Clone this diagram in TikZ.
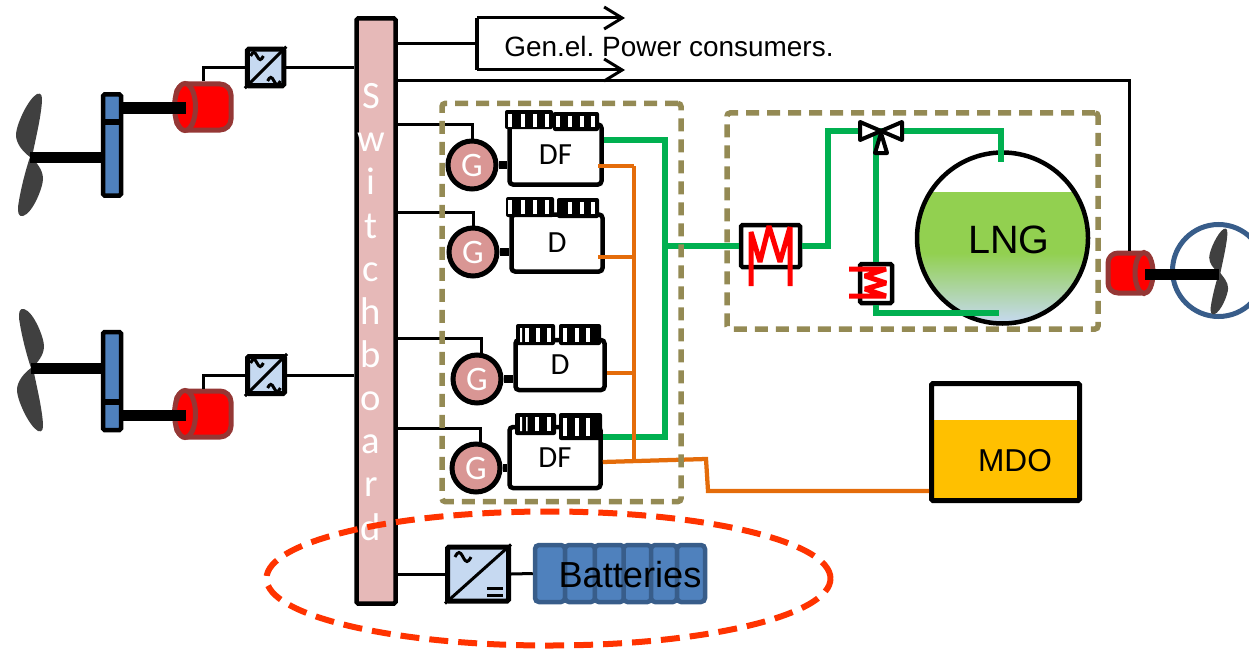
\documentclass[tikz,border=0pt]{standalone}
\usepackage{fontspec}
\setmainfont{Liberation Sans}
\newfontfamily\calfont{Carlito}
\usetikzlibrary{arrows.meta,positioning,shapes.geometric}
\definecolor{pinkbar}{HTML}{E6B9B8}
\definecolor{genpink}{HTML}{D99694}
\definecolor{bluegear}{HTML}{4F81BD}
\definecolor{blueedge}{HTML}{385D8A}
\definecolor{convblue}{HTML}{C6D9F1}
\definecolor{olive}{HTML}{948A54}
\definecolor{gasgreen}{HTML}{00B050}
\definecolor{oilorange}{HTML}{E46C0A}
\definecolor{motoredge}{HTML}{953735}
\definecolor{lnggreen}{HTML}{92D050}
\definecolor{mdoyellow}{HTML}{FFC000}
\definecolor{zonered}{HTML}{FF3300}
\definecolor{bladegray}{HTML}{404040}
\tikzset{
  >={Straight Barb[length=3.6mm,width=4.4mm]},
  wire/.style={draw=black,line width=.6mm},
  shaft/.style={draw=black,line width=2.2mm},
  stub/.style={draw=black,line width=1.6mm},
  gaspipe/.style={draw=gasgreen,line width=1.3mm},
  oilpipe/.style={draw=oilorange,line width=.85mm},
  heatcoil/.style={draw=red,line width=1mm,line join=bevel},
  dashbox/.style={draw=olive,line width=1.1mm,rounded corners=.6mm,dash pattern=on 2.6mm off 1.6mm},
  motor/.style={rectangle,draw=motoredge,fill=red,line width=1mm,rounded corners=2.2mm,minimum width=11mm,minimum height=9.2mm,inner sep=0pt},
  motorend/.style={ellipse,draw=motoredge,fill=red,line width=1mm,minimum width=4.2mm,minimum height=9.4mm,inner sep=0pt},
  gearbar/.style={rectangle,draw=black,fill=bluegear,line width=.9mm,rounded corners=.3mm,minimum width=3.6mm,inner sep=0pt},
  conv/.style={rectangle,draw=black,fill=convblue,line width=1mm,rounded corners=.3mm,inner sep=0pt},
  gen/.style={circle,draw=black,fill=genpink,line width=1mm,minimum size=9.6mm,inner sep=0pt,text=white,font=\calfont\fontsize{19.5pt}{22pt}\selectfont},
  engine/.style={rectangle,draw=black,fill=white,line width=.9mm,rounded corners=.7mm,inner sep=0pt,font=\calfont\fontsize{17.5pt}{20pt}\selectfont},
  headblock/.style={fill=black,rounded corners=.4mm},
  slot/.style={fill=white},
  cell/.style={rectangle,draw=blueedge,fill=bluegear,line width=.9mm,rounded corners=.8mm,minimum height=11.4mm,inner sep=0pt},
  propeller/.pic={
    \fill[bladegray] (0,0) .. controls (-8,-6) and (-14,-14) .. (-14,-22)
      .. controls (-14,-32) and (-2,-58) .. (7,-63)
      .. controls (12,-65) and (12,-60) .. (12,-56)
      .. controls (11,-40) and (6,-20) .. (2,0)
      .. controls (6,6) and (13,12) .. (13,22)
      .. controls (13,30) and (3,56) .. (-7,59)
      .. controls (-12,60) and (-12,55) .. (-12,50)
      .. controls (-10,35) and (-5,15) .. (0,0) -- cycle;
  },
  wavy/.pic={
    \draw[line width=.6mm] (-8,0) .. controls (-5,-6) and (-3,-6) .. (0,0)
      .. controls (3,6) and (5,6) .. (8,0);
  },
}
\newcommand{\headslots}[3]{\foreach \sx in {#1} \fill[slot] (\sx-2.2,#2) rectangle (\sx+2.2,#3);}

\begin{document}
\begin{tikzpicture}[x=.2mm,y=-.2mm]
  \useasboundingbox (0,0) rectangle (1249,649);

  \node[rectangle,draw=black,fill=pinkbar,line width=.9mm,rounded corners=.3mm,minimum width=7.8mm,minimum height=117mm] (swb) at (376,311) {};
  \node[text=white,align=center,font=\calfont\fontsize{22pt}{24.55pt}\selectfont] (swblab) at (371,312)
    {S\\w\\i\\t\\c\\h\\b\\o\\a\\r\\d};

  % propulsion, port side
  \coordinate (hubA) at (30,157);
  \coordinate (hubB) at (31,368);
  \coordinate (shA) at (186,108);
  \coordinate (shB) at (186,415);
  \pic at (hubA) {propeller};
  \pic[yscale=-1] at (hubB) {propeller};
  \node[gearbar,minimum height=20.2mm] (gearA) at (112,145) {};
  \node[gearbar,minimum height=19.6mm] (gearB) at (112,381) {};
  \draw[line width=1.3mm] (gearA.west |- 0,122) -- (gearA.east |- 0,122);
  \draw[line width=1.3mm] (gearB.west |- 0,402) -- (gearB.east |- 0,402);
  \node[motor] (motA) at (203.5,107) {};
  \node[motor] (motB) at (203.5,414) {};
  \node[motorend] (endA) at (185,107) {};
  \node[motorend] (endB) at (185,414) {};
  \draw[shaft] (hubA) -- (gearA.west |- hubA);
  \draw[shaft] (hubB) -- (gearB.west |- hubB);
  \draw[shaft] (gearA.east |- shA) -- (shA);
  \draw[shaft] (gearB.east |- shB) -- (shB);
  \node[conv,minimum size=7.3mm] (convA) at (265.5,67.5) {};
  \node[conv,minimum size=7.4mm] (convB) at (266,375) {};
  \draw[wire] (motA.north) |- (convA.west);
  \draw[wire] (motB.north) |- (convB.west);
  \draw[wire] (convA.east) -- (convA.east -| swb.west);
  \draw[wire] (convB.east) -- (convB.east -| swb.west);
  \draw[wire] (convA.south west) -- (convA.north east);
  \draw[wire] (convB.south west) -- (convB.north east);
  \pic[scale=.8] at (257,56) {wavy};
  \pic[scale=.8] at (274,81) {wavy};
  \pic[scale=.8] at (257,363) {wavy};
  \pic[scale=.8] at (274,388) {wavy};

  % general consumers
  \coordinate (fork) at (477,44);
  \coordinate (forkT) at (477,18);
  \coordinate (forkB) at (477,70);
  \coordinate (tipT) at (625,18);
  \coordinate (tipB) at (625,70);
  \draw[wire] (swb.east |- fork) -- (fork);
  \draw[wire,line width=.8mm] (forkT) -- (forkB);
  \draw[wire,->] (forkT) -- (tipT);
  \draw[wire,->] (forkB) -- (tipB);
  \node[anchor=west,inner sep=0pt,font=\frenchspacing\fontsize{15.9pt}{18pt}\selectfont] (consumers) at (504,47) {Gen.el. Power consumers.};

  % gensets
  \node[engine,minimum width=18.4mm,minimum height=12mm] (engA) at (555.5,154.5) {DF};
  \node[engine,minimum width=18.2mm,minimum height=11.4mm] (engB) at (557,243) {D};
  \node[engine,minimum width=17.8mm,minimum height=10mm] (engC) at (560,365) {D};
  \node[engine,minimum width=18.2mm,minimum height=12.2mm] (engD) at (555,457.5) {DF};
  \fill[headblock] (505,110) rectangle (553,129) (553,112) rectangle (599,131);
  \fill[headblock] (506,197) rectangle (554,217) (557,198) rectangle (599,218);
  \fill[headblock] (516,324) rectangle (555,345) (559,324) rectangle (601,345);
  \fill[headblock] (515,413) rectangle (556,435) (559,413) rectangle (602,440);
  \headslots{510,523,535,547}{114}{127}
  \headslots{558,570,582,593}{116}{127}
  \headslots{510,523,535,547}{200}{214}
  \headslots{570,582,593}{202}{214}
  \headslots{527,538,549,565,577,588}{328}{342}
  \headslots{537,549}{417}{431}
  \headslots{565,577,588}{418}{436}
  \fill[slot] (520,328) rectangle (522,342) (520,417) rectangle (522,431) (526,417) rectangle (527.5,431);
  \node[gen] (genA) at (472,165) {G};
  \node[gen] (genB) at (473,252) {G};
  \node[gen] (genC) at (477,379) {G};
  \node[gen] (genD) at (476,468) {G};
  \foreach \g/\e in {genA/engA,genB/engB,genC/engC,genD/engD}
    \draw[stub] (\g.east) -- (\g.east -| \e.west);
  \draw[wire] (swb.east |- 0,124) -| (genA.north);
  \draw[wire] (swb.east |- 0,212) -| (genB.north);
  \draw[wire] (swb.east |- 0,338) -| (genC.80);
  \draw[wire] (swb.east |- 0,428) -| (genD.80);

  % fuel gas side
  \coordinate (tankc) at (1002.5,238);
  \begin{scope}
    \clip (tankc) circle (84);
    \fill[lnggreen] (900,192) rectangle (1100,254);
    \shade[top color=lnggreen,bottom color=convblue] (900,253) rectangle (1100,323);
  \end{scope}
  \node[circle,draw=black,line width=.9mm,minimum size=34.2mm,inner sep=0pt] (tank) at (tankc) {};
  \node[inner sep=0pt,font=\fontsize{22.5pt}{24pt}\selectfont] (lnglab) at (1009,240) {LNG};
  \node[rectangle,draw=black,fill=white,line width=.9mm,rounded corners=.3mm,minimum width=11.8mm,minimum height=8.4mm] (hxA) at (770.5,246) {};
  \node[rectangle,draw=black,fill=white,line width=.9mm,rounded corners=.3mm,minimum width=6.4mm,minimum height=7.8mm] (hxB) at (876,283.5) {};
  \coordinate (valve) at (881,131);
  \coordinate (gasbus) at (665,246);
  \coordinate (tanktop) at (1001,162);
  \coordinate (tankbot) at (999,313);
  \draw[gaspipe] (engA.east |- 0,140) -- (gasbus |- 0,140) -- (gasbus |- 0,437) -- (engD.east |- 0,437);
  \draw[gaspipe] (gasbus) -- (hxA.west);
  \draw[gaspipe] (hxA.east) -- (828,246) -- (828,131) -- (valve);
  \draw[gaspipe] (valve) -| (tanktop);
  \draw[gaspipe] (hxB.north |- valve) -- (hxB.north);
  \draw[gaspipe] (hxB.south) |- (tankbot);
  \draw[heatcoil] (751,286) -- (751,232) -- (760,262) -- (769,226) -- (780,262) -- (790,227) -- (790,286);
  \draw[heatcoil] (849,269) -- (886,269) -- (865,276) -- (886,283) -- (865,289) -- (886,296) -- (849,296);
  \draw[black,fill=white,line width=.8mm,line join=round] (860,122) -- (881,131) -- (860,140) -- cycle;
  \draw[black,fill=white,line width=.8mm,line join=round] (902,122) -- (881,131) -- (902,140) -- cycle;
  \draw[black,fill=white,line width=.8mm,line join=round] (881,133) -- (875,153) -- (887,153) -- cycle;

  % liquid fuel side
  \fill[mdoyellow] (931,420) rectangle (1080,501);
  \node[rectangle,draw=black,line width=1mm,rounded corners=.3mm,minimum width=29.6mm,minimum height=23.4mm] (mdo) at (1005.5,442) {};
  \node[inner sep=0pt,font=\fontsize{18pt}{20pt}\selectfont] (mdolab) at (1015,461) {MDO};
  \coordinate (oilbus) at (634,300);
  \coordinate (oilA) at (598,166);
  \coordinate (oilB) at (598,257);
  \draw[oilpipe] (oilA) -- (oilbus |- oilA);
  \draw[oilpipe] (oilB) -- (oilbus |- oilB);
  \draw[oilpipe] (engC.east |- 0,373) -- (oilbus |- 0,373);
  \draw[oilpipe] (oilbus |- oilA) -- (oilbus |- 0,462);
  \draw[oilpipe] (engD.east |- 0,462) -- (706,459) -- (708,491) -- (mdo.west |- 0,491);

  \node[dashbox,minimum width=47.8mm,minimum height=79.6mm,inner sep=0pt] (genbox) at (561.5,302.5) {};
  \node[dashbox,minimum width=74.2mm,minimum height=43.2mm,inner sep=0pt] (gasbox) at (912.5,221) {};

  % main drive
  \node[circle,draw=blueedge,line width=1mm,minimum size=18.4mm,inner sep=0pt] (podring) at (1218.5,270.5) {};
  \coordinate (hubC) at (1219,273);
  \coordinate (shC) at (1145,274);
  \pic[scale=.7] at (hubC) {propeller};
  \node[motor,minimum width=8.6mm,minimum height=8mm,rounded corners=2mm] (motC) at (1129.5,273) {};
  \node[motorend,minimum width=3.6mm,minimum height=8.2mm] (endC) at (1144,273) {};
  \draw[shaft] (shC) -- (hubC |- shC);
  \draw[wire] (swb.east |- 0,81) -| (motC.north);

  % battery branch
  \node[conv,minimum width=12.2mm,minimum height=10.8mm] (convC) at (478,574) {};
  \draw[wire] (convC.south west) -- (convC.north east);
  \pic at (463,557) {wavy};
  \draw[line width=.6mm] (487,588) -- (503,588) (487,595) -- (503,595);
  \foreach \i/\cx/\w in {1/550/6.0,2/580/6.0,3/609.5/5.9,4/637.5/5.6,5/664/5.2,6/691/5.6}
    \node[cell,minimum width=\w mm] (cell\i) at (\cx,573.5) {};
  \node[inner sep=0pt,font=\fontsize{20.6pt}{24pt}\selectfont] (batlab) at (630,575) {Batteries};
  \draw[wire] (swb.east |- convC) -- (convC.west);
  \draw[wire] (convC.east) -- (cell1.west);
  \node[ellipse,draw=zonered,line width=1.2mm,dash pattern=on 3.8mm off 2mm,minimum width=112.8mm,minimum height=26.8mm,inner sep=0pt] (batzone) at (548.5,578.5) {};
\end{tikzpicture}
\end{document}
